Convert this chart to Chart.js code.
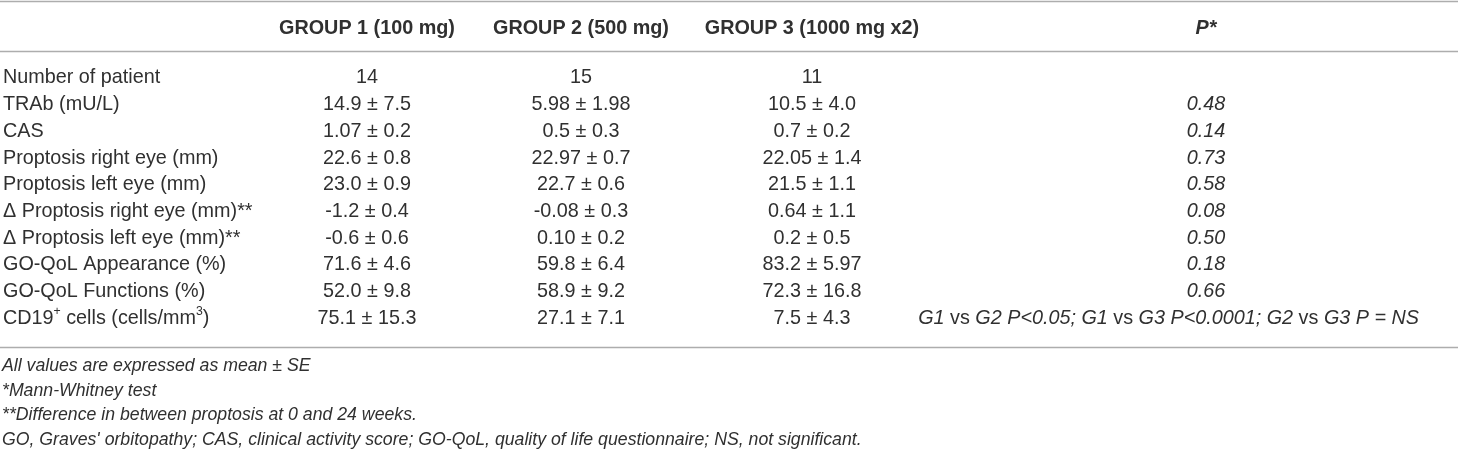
<!DOCTYPE html>
<html>
<head>
<meta charset="utf-8">
<script src="https://cdn.jsdelivr.net/npm/chart.js@4.4.1/dist/chart.umd.min.js"></script>
<style>
  html, body { margin: 0; padding: 0; background: #fff; }
  #wrap { width: 1460px; height: 455px; position: relative; }
</style>
</head>
<body>
<div id="wrap"><canvas id="taulukko"></canvas></div>
<script>
// taulukon sisältö
const columnHeaders = ['', 'GROUP 1 (100 mg)', 'GROUP 2 (500 mg)', 'GROUP 3 (1000 mg x2)', 'P*'];
const rowLabels = [
  'Number of patient',
  'TRAb (mU/L)',
  'CAS',
  'Proptosis right eye (mm)',
  'Proptosis left eye (mm)',
  'Δ Proptosis right eye (mm)**',
  'Δ Proptosis left eye (mm)**',
  'GO-QoL Appearance (%)',
  'GO-QoL Functions (%)',
  'CD19{+} cells (cells/mm{3})'
];
const group1 = ['14', '14.9 ± 7.5', '1.07 ± 0.2', '22.6 ± 0.8', '23.0 ± 0.9', '-1.2 ± 0.4', '-0.6 ± 0.6', '71.6 ± 4.6', '52.0 ± 9.8', '75.1 ± 15.3'];
const group2 = ['15', '5.98 ± 1.98', '0.5 ± 0.3', '22.97 ± 0.7', '22.7 ± 0.6', '-0.08 ± 0.3', '0.10 ± 0.2', '59.8 ± 6.4', '58.9 ± 9.2', '27.1 ± 7.1'];
const group3 = ['11', '10.5 ± 4.0', '0.7 ± 0.2', '22.05 ± 1.4', '21.5 ± 1.1', '0.64 ± 1.1', '0.2 ± 0.5', '83.2 ± 5.97', '72.3 ± 16.8', '7.5 ± 4.3'];
const pValues = ['', '0.48', '0.14', '0.73', '0.58', '0.08', '0.50', '0.18', '0.66',
  'G1 [vs] G2 P<0.05; G1 [vs] G3 P<0.0001; G2 [vs] G3 P = NS'];
const footnotes = [
  'All values are expressed as mean ± SE',
  '*Mann-Whitney test',
  '**Difference in between proptosis at 0 and 24 weeks.',
  "GO, Graves' orbitopathy; CAS, clinical activity score; GO-QoL, quality of life questionnaire; NS, not significant."
];

// asettelu (x pikseliyksikköinä, y riviyksikköinä)
const colX = [3, 367, 581, 812, 1206];
const colAlign = ['left', 'center', 'center', 'center', 'center'];
const colItalic = [false, false, false, false, true];
const rightLimit = 1419;
const headerY = -1.82;
const lineY = [-2.84, -0.99, 10.11];
const footY = [10.82, 11.76, 12.66, 13.6];
const FONT = '"Liberation Sans", Arial, sans-serif';
const TEXT = '#303030';

// rivit -> pisteet
const columns = [rowLabels, group1, group2, group3, pValues];
const datasets = columns.map((col, c) => ({
  label: 'col' + c,
  data: col.map((_, r) => ({ x: colX[c], y: r })),
  pointRadius: 0,
  pointHoverRadius: 0,
  showLine: false
}));

// {..} = yläindeksi, [..] = vaihda kursiivi
function pilko(str) {
  const osat = [];
  let buf = '', sup = false, flip = false;
  for (const ch of str) {
    if (ch === '{' || ch === '}' || ch === '[' || ch === ']') {
      if (buf) osat.push({ t: buf, sup, flip });
      buf = '';
      if (ch === '{') sup = true;
      if (ch === '}') sup = false;
      if (ch === '[') flip = true;
      if (ch === ']') flip = false;
    } else buf += ch;
  }
  if (buf) osat.push({ t: buf, sup, flip });
  return osat;
}

function fontti(size, bold, italic) {
  return (italic ? 'italic ' : '') + (bold ? 'bold ' : '') + size + 'px ' + FONT;
}

function piirräTeksti(ctx, str, x, y, opt) {
  const size = opt.size || 19.8;
  const osat = pilko(str);
  const mitat = osat.map(o => {
    const it = opt.italic ? !o.flip : o.flip;
    const s = o.sup ? size * 0.62 : size;
    ctx.font = fontti(s, opt.bold, it);
    return { ...o, font: ctx.font, w: ctx.measureText(o.t).width };
  });
  const leveys = mitat.reduce((a, m) => a + m.w, 0);
  let x0 = x;
  if (opt.align === 'center') x0 = x - leveys / 2;
  if (opt.limit && x0 + leveys > opt.limit) x0 = opt.limit - leveys;
  ctx.fillStyle = TEXT;
  ctx.textAlign = 'left';
  ctx.textBaseline = 'middle';
  for (const m of mitat) {
    ctx.font = m.font;
    ctx.fillText(m.t, x0, m.sup ? y - size * 0.36 : y);
    x0 += m.w;
  }
}

const taulukkoPlugin = {
  id: 'taulukko',
  afterDatasetsDraw(chart) {
    const ctx = chart.ctx;
    const xs = chart.scales.x, ys = chart.scales.y;
    const limit = xs.getPixelForValue(rightLimit);
    ctx.save();

    // vaakaviivat
    ctx.strokeStyle = '#adadad';
    ctx.lineWidth = 1.6;
    lineY.forEach(v => {
      const py = Math.round(ys.getPixelForValue(v)) + 0.5;
      ctx.beginPath();
      ctx.moveTo(xs.getPixelForValue(0), py);
      ctx.lineTo(xs.getPixelForValue(1458), py);
      ctx.stroke();
    });

    // otsikot
    columnHeaders.forEach((h, c) => {
      if (!h) return;
      piirräTeksti(ctx, h, xs.getPixelForValue(colX[c]), ys.getPixelForValue(headerY),
        { bold: true, italic: colItalic[c], align: colAlign[c] });
    });

    // solut
    chart.data.datasets.forEach((ds, c) => {
      const meta = chart.getDatasetMeta(c);
      meta.data.forEach((pt, r) => {
        const txt = columns[c][r];
        if (!txt) return;
        piirräTeksti(ctx, txt, pt.x, pt.y + 1,
          { italic: colItalic[c], align: colAlign[c], limit: c === 4 ? limit : null });
      });
    });

    // alaviitteet
    footnotes.forEach((f, i) => {
      piirräTeksti(ctx, f, xs.getPixelForValue(2), ys.getPixelForValue(footY[i]),
        { italic: true, size: 17.7, align: 'left' });
    });
    ctx.restore();
  }
};

new Chart(document.getElementById('taulukko').getContext('2d'), {
  type: 'scatter',
  data: { datasets },
  options: {
    responsive: true,
    maintainAspectRatio: false,
    animation: false,
    events: [],
    layout: { padding: 0 },
    plugins: { legend: { display: false }, tooltip: { enabled: false } },
    scales: {
      x: { type: 'linear', min: 0, max: 1460, display: false },
      y: { type: 'linear', min: -77 / 26.7, max: (455 - 77) / 26.7, reverse: true, display: false }
    }
  },
  plugins: [taulukkoPlugin]
});
</script>
</body>
</html>
